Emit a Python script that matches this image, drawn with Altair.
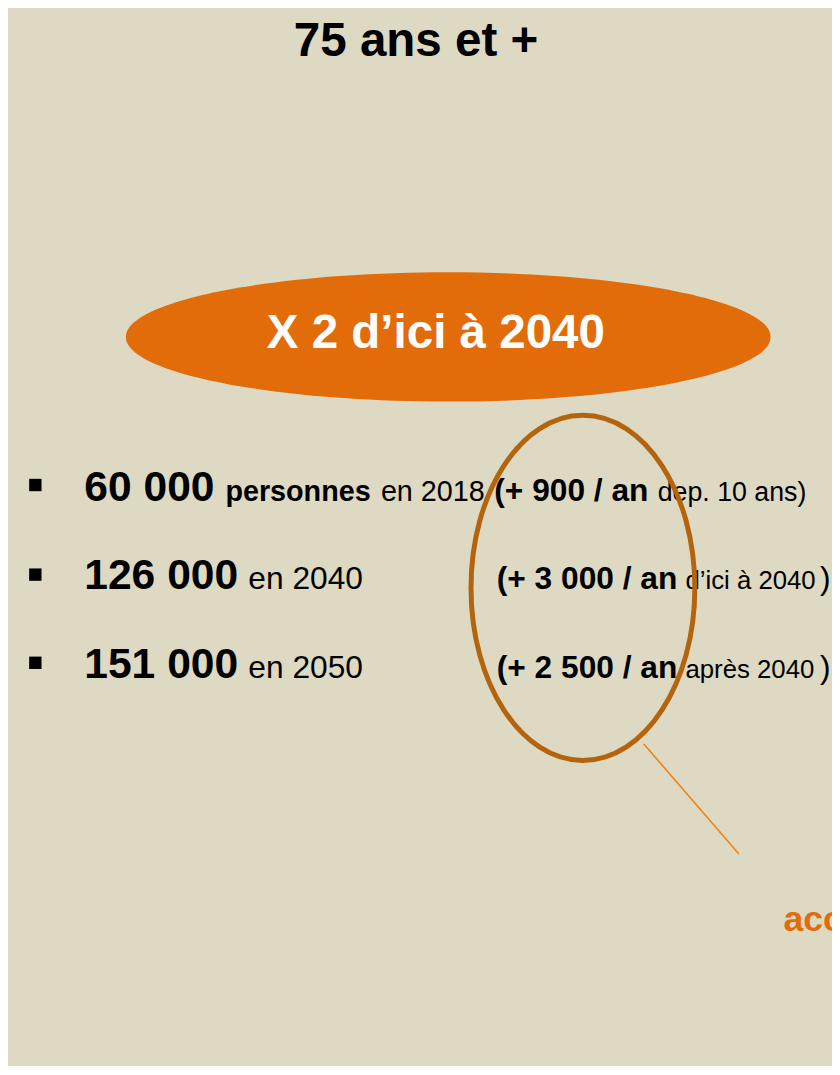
import altair as alt
import pandas as pd

# ---------------- data ----------------
title = "75 ans et +"
headline = "X 2 d\u2019ici à 2040"
populations = [60000, 126000, 151000]
years = [2018, 2040, 2050]
increments = [900, 3000, 2500]
notes = ["dep. 10 ans", "d\u2019ici à 2040", "après 2040"]
callout = "acc"

def fr(n):
    return f"{n:,}".replace(",", " ")

# ---------------- layout (chart pixel coordinates) ----------------
W, H = 832, 1058
FONT = "Liberation Sans"
BEIGE = "#DDD9C3"
ORANGE = "#E36C0A"
BROWN = "#B5640E"
LINE_OR = "#EE8418"

base_y = [493, 582, 671]
bullet_y = [476.5, 567, 656]

texts = []
def add(x, y, t, size, weight, color="#000000", align="left"):
    texts.append(dict(x=x, y=y, t=t, size=size, weight=weight, color=color, align=align))

add(412, 43, title, 48, "bold", align="center")
add(432, 338, headline, 48, "bold", "#FFFFFF", "center")

for i in range(3):
    add(77, base_y[i], fr(populations[i]), 43, "bold")
add(219.5, base_y[0], "personnes", 29, "bold")
add(376.5, base_y[0], f"en {years[0]}", 29, "normal")
add(491, base_y[0], f"(+ {fr(increments[0])} / an", 32, "bold")
add(656, base_y[0], notes[0] + ")", 27, "normal")
for i in (1, 2):
    add(242.7, base_y[i], f"en {years[i]}", 32, "normal")
    add(493.5, base_y[i], f"(+ {fr(increments[i])} / an", 32, "bold")
    add(684, base_y[i], notes[i], 26, "normal")
    add(820, base_y[i], ")", 32, "normal")
add(783, 927, callout, 36, "bold", ORANGE)

tdf = pd.DataFrame(texts)

xs = alt.Scale(domain=[0, W], range=[0, W], nice=False, zero=False)
ys = alt.Scale(domain=[0, H], range=[0, H], nice=False, zero=False)
X = lambda f: alt.X(f, type="quantitative", scale=xs, axis=None)
Y = lambda f: alt.Y(f, type="quantitative", scale=ys, axis=None)

# orange filled ellipse
ell1_w, ell1_h = 651, 130.5
ell1 = pd.DataFrame([{"x": 444.5, "y": 327}])
r1 = ell1_h / ell1_w
path1 = f"M -1 0 A 1 {r1:.4f} 0 1 0 1 0 A 1 {r1:.4f} 0 1 0 -1 0 Z"
orange_ellipse = alt.Chart(ell1).mark_point(
    shape=path1, filled=True, color=ORANGE, opacity=1, size=ell1_w ** 2, strokeWidth=0
).encode(x=X("x"), y=Y("y"))

# brown outlined ellipse
ell2_w, ell2_h = 226, 348.5
ell2 = pd.DataFrame([{"x": 580.5, "y": 580.4}])
r2 = ell2_w / ell2_h
path2 = f"M 0 -1 A {r2:.4f} 1 0 1 0 0 1 A {r2:.4f} 1 0 1 0 0 -1 Z"
brown_ellipse = alt.Chart(ell2).mark_point(
    shape=path2, filled=False, stroke=BROWN, opacity=1, size=ell2_h ** 2, strokeWidth=5
).encode(x=X("x"), y=Y("y"))

# connector line
conn = pd.DataFrame([{"x": 642, "y": 738, "x2": 738, "y2": 849}])
connector = alt.Chart(conn).mark_rule(color=LINE_OR, strokeWidth=1.6).encode(
    x=X("x"), y=Y("y"), x2="x2", y2="y2"
)

# bullets
bdf = pd.DataFrame({"x": [27.6] * 3, "y": bullet_y})
bullets = alt.Chart(bdf).mark_square(color="#000000", opacity=1, size=156).encode(
    x=X("x"), y=Y("y")
)

layers = [orange_ellipse, bullets]
for (size, weight, color, align), g in tdf.groupby(["size", "weight", "color", "align"]):
    layers.append(
        alt.Chart(g).mark_text(
            font=FONT, fontSize=float(size), fontWeight=weight, color=color,
            align=align, baseline="alphabetic"
        ).encode(x=X("x"), y=Y("y"), text="t:N")
    )
layers += [brown_ellipse, connector]

chart = alt.layer(*layers).properties(
    width=W, height=H, padding=0, autosize=alt.AutoSizeParams(type="none"),
    background=BEIGE
).configure_view(stroke=None, fill=BEIGE)

chart.save("out.html", embed_options={"renderer": "svg", "actions": False})
